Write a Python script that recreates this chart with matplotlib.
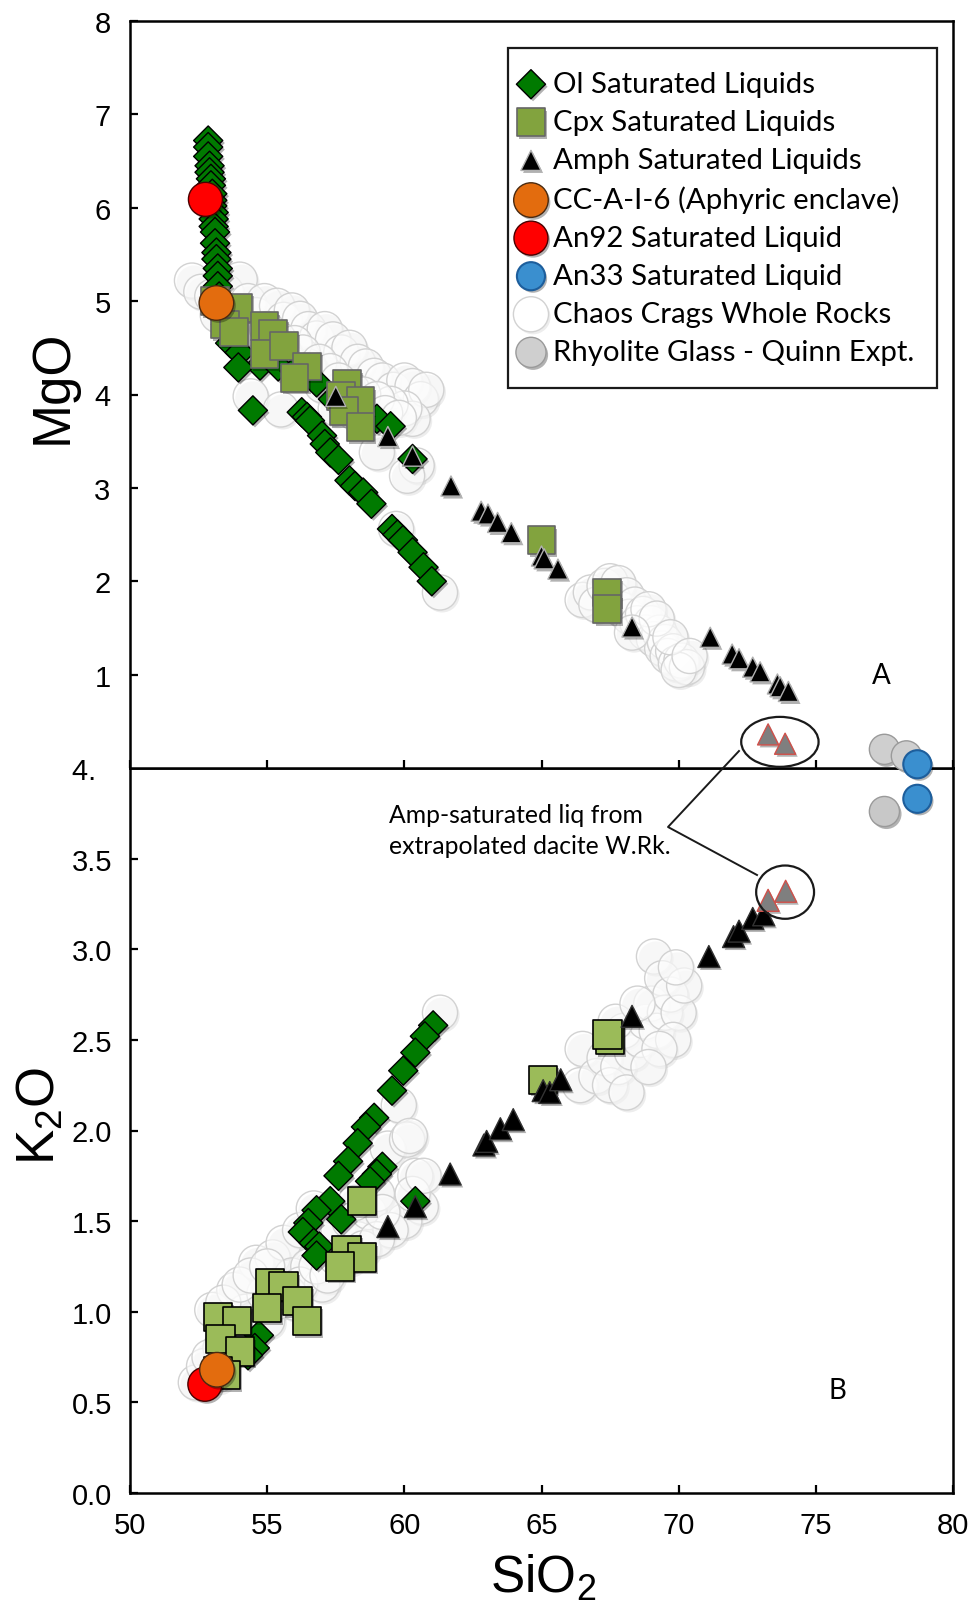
import matplotlib
matplotlib.use('Agg')
import matplotlib.pyplot as plt
import matplotlib.patheffects as pe
from matplotlib.patches import Ellipse
from matplotlib.lines import Line2D
import numpy as np

# ---------------- data ----------------
# Panel A: SiO2 vs MgO
ol_a_sio2 = [52.85, 52.85, 52.85, 52.9, 52.9, 52.95, 52.95, 53.0, 53.0, 53.0, 53.05, 53.05,
             53.05, 53.1, 53.1, 53.15, 53.15, 53.2, 53.2, 53.2, 53.25,
             53.3, 53.5, 53.65, 54.0, 54.74, 55.4, 56.0, 56.8, 57.4, 58.0, 58.4, 59.0, 59.5, 60.3,
             53.95, 54.48,
             56.26, 56.45, 56.56, 57.0, 57.1, 57.3, 57.6, 58.0, 58.2, 58.5, 58.8, 59.55, 59.75,
             59.95, 60.3, 60.7, 61.0]
ol_a_mgo = [6.72, 6.65, 6.55, 6.45, 6.38, 6.31, 6.24, 6.15, 6.08, 6.02, 5.95, 5.88,
            5.80, 5.74, 5.62, 5.52, 5.45, 5.35, 5.27, 5.16, 5.05,
            4.90, 4.75, 4.55, 4.45, 4.31, 4.30, 4.25, 4.13, 3.95, 3.90, 3.84, 3.74, 3.66, 3.31,
            4.29, 3.83,
            3.81, 3.76, 3.72, 3.56, 3.47, 3.38, 3.30, 3.08, 3.02, 2.95, 2.83, 2.56, 2.50,
            2.44, 2.31, 2.15, 2.00]

cpx_a_sio2 = [53.1, 53.95, 53.46, 53.8, 54.9, 55.2, 54.9, 55.6, 56.45, 56.0, 57.9, 57.7,
              58.4, 57.8, 58.4, 65.0, 67.4, 67.4]
cpx_a_mgo = [5.00, 4.93, 4.75, 4.67, 4.73, 4.65, 4.43, 4.52, 4.30, 4.18, 4.11, 3.98,
             3.93, 3.82, 3.65, 2.44, 1.88, 1.70]

amph_a_sio2 = [57.5, 59.4, 60.3, 61.7, 62.8, 63.05, 63.4, 63.9, 65.0, 65.1, 65.6, 68.3,
               71.15, 71.95, 72.2, 72.7, 72.97, 73.6, 73.7, 74.0]
amph_a_mgo = [3.98, 3.55, 3.34, 3.02, 2.75, 2.72, 2.63, 2.52, 2.27, 2.24, 2.13, 1.51,
              1.40, 1.22, 1.17, 1.08, 1.03, 0.90, 0.87, 0.82]

extrap_a_sio2 = [73.26, 73.88]
extrap_a_mgo = [0.36, 0.26]

cc_a = (53.15, 4.98)      # CC-A-I-6
an92_a = (52.75, 6.09)
an33_a_sio2 = [78.7]
an33_a_mgo = [0.04]
rhy_a_sio2 = [77.5, 78.3]
rhy_a_mgo = [0.20, 0.13]

wr_a_sio2 = [52.26, 52.6, 53.0, 53.5, 54.0, 54.3, 54.6, 54.9, 55.36, 55.6, 55.9, 56.2, 56.5,
             56.8, 57.1, 57.4, 57.7, 58.0, 58.3, 58.6, 58.9, 59.2, 59.6, 60.0, 60.3, 60.6,
             60.8, 60.3, 60.0, 59.5, 58.8, 58.2, 57.5, 57.0, 56.5, 55.8, 55.2, 54.6, 54.4,
             55.5, 60.45, 60.1, 59.0, 59.7, 61.3,
             53.2, 53.8, 54.2, 55.0, 55.4, 56.0, 56.3, 56.9, 57.3, 57.6, 58.1, 58.5, 59.0,
             59.3, 59.8,
             66.5, 66.8, 67.0, 67.3, 67.5, 67.8, 67.6, 67.9, 68.1, 68.2, 68.4, 68.5, 68.7,
             68.8, 69.0, 69.1, 69.3, 69.4, 69.5, 69.6, 69.8, 69.9, 70.1, 70.3, 70.0, 68.9,
             69.2, 68.3, 69.7, 70.4]
wr_a_mgo = [5.22, 5.10, 5.05, 5.10, 5.23, 5.00, 4.85, 5.00, 4.95, 4.80, 4.90, 4.81, 4.70,
            4.60, 4.70, 4.59, 4.45, 4.50, 4.35, 4.30, 4.20, 4.15, 4.05, 4.15, 4.09, 3.95,
            4.05, 3.74, 3.85, 3.90, 3.70, 3.80, 3.85, 4.10, 4.30, 4.35, 4.50, 4.60, 3.98,
            3.84, 3.24, 3.13, 3.38, 2.56, 1.88,
            4.85, 4.80, 4.70, 4.70, 4.60, 4.55, 4.45, 4.35, 4.25, 4.15, 4.05, 4.00, 3.95,
            3.80, 3.75,
            1.80, 1.88, 1.75, 1.95, 2.00, 1.98, 1.82, 1.70, 1.85, 1.62, 1.75, 1.55, 1.65,
            1.45, 1.55, 1.38, 1.45, 1.28, 1.35, 1.20, 1.25, 1.12, 1.15, 1.08, 1.05, 1.70,
            1.60, 1.45, 1.40, 1.20]

# Panel B: SiO2 vs K2O
ol_b_sio2 = [61.05, 60.75, 60.4, 59.96, 59.55, 58.9, 58.6, 58.3, 57.95, 57.6, 59.2, 59.0,
             58.75, 57.3, 56.8, 57.7, 56.5, 56.3, 56.7, 56.9, 56.8, 60.4, 54.7, 54.55,
             54.3, 53.0, 53.1, 53.2, 53.3]
ol_b_k2o = [2.58, 2.52, 2.43, 2.33, 2.22, 2.07, 2.02, 1.93, 1.83, 1.75, 1.80, 1.76,
            1.72, 1.61, 1.56, 1.51, 1.49, 1.44, 1.38, 1.36, 1.31, 1.61, 0.87, 0.80,
            0.76, 0.62, 0.63, 0.66, 0.68]

cpx_b_sio2 = [58.46, 57.9, 58.46, 57.65, 55.1, 55.6, 55.0, 56.1, 56.45, 53.2, 53.9, 53.3,
              54.0, 53.2, 53.5, 65.06, 67.5, 67.4]
cpx_b_k2o = [1.61, 1.34, 1.30, 1.25, 1.16, 1.14, 1.02, 1.06, 0.95, 0.97, 0.95, 0.85,
             0.78, 0.67, 0.65, 2.28, 2.50, 2.53]

amph_b_sio2 = [59.4, 60.4, 61.67, 62.9, 63.0, 63.5, 63.97, 65.06, 65.3, 65.7, 68.3, 71.1,
               72.0, 72.2, 72.7, 73.1]
amph_b_k2o = [1.47, 1.58, 1.76, 1.92, 1.94, 2.01, 2.06, 2.22, 2.21, 2.28, 2.63, 2.96,
              3.07, 3.10, 3.17, 3.19]

extrap_b_sio2 = [73.26, 73.9]
extrap_b_k2o = [3.27, 3.32]

cc_b = (53.17, 0.68)
an92_b = (52.73, 0.60)
an33_b_sio2 = [78.7]
an33_b_k2o = [3.83]
rhy_b_sio2 = [77.5]
rhy_b_k2o = [3.76]

wr_b_sio2 = [52.4, 52.7, 53.0, 53.3, 53.6, 53.8, 54.2, 54.6, 54.9, 55.2, 55.6, 55.9, 56.2,
             56.7, 56.5, 57.0, 57.3, 57.6, 58.0, 58.3, 58.7, 59.0, 59.4, 59.8, 60.1, 60.2,
             60.6, 60.4, 60.0, 59.5, 61.3, 55.0, 54.0, 56.0, 57.0,
             53.4, 54.0, 54.4, 55.0, 55.3, 55.8, 56.2, 56.8, 57.2, 57.5, 58.0, 58.5, 59.0,
             59.2, 58.2, 60.3, 60.7, 53.9, 52.9, 53.2,
             66.4, 66.5, 67.0, 67.3, 67.5, 67.8, 68.1, 68.3, 68.0, 68.6, 68.8, 69.0, 69.1,
             69.4, 69.2, 69.5, 69.7, 70.0, 69.8, 70.2, 69.3, 68.9, 67.7, 68.5, 69.9]
wr_b_k2o = [0.61, 0.70, 1.01, 0.80, 0.90, 1.12, 1.00, 1.27, 1.10, 1.30, 1.38, 1.20, 1.45,
            1.57, 1.25, 1.40, 1.30, 1.45, 1.50, 1.40, 1.55, 1.65, 1.90, 2.14, 1.95, 1.97,
            1.58, 1.75, 1.50, 1.45, 2.65, 0.95, 0.80, 1.05, 1.15,
            1.05, 1.15, 1.20, 1.25, 1.05, 1.10, 1.15, 1.25, 1.20, 1.30, 1.30, 1.35, 1.40,
            1.55, 1.60, 1.65, 1.75, 0.85, 0.75, 0.65,
            2.25, 2.45, 2.30, 2.40, 2.25, 2.35, 2.21, 2.43, 2.55, 2.50, 2.60, 2.70, 2.96,
            2.84, 2.55, 2.65, 2.75, 2.65, 2.50, 2.80, 2.45, 2.35, 2.60, 2.70, 2.90]

labels = ['Ol Saturated Liquids', 'Cpx Saturated Liquids', 'Amph Saturated Liquids',
          'CC-A-I-6 (Aphyric enclave)', 'An92 Saturated Liquid', 'An33 Saturated Liquid',
          'Chaos Crags Whole Rocks', 'Rhyolite Glass - Quinn Expt.']
x_ticks = [50, 55, 60, 65, 70, 75, 80]
mgo_ticks = [1, 2, 3, 4, 5, 6, 7, 8]
k2o_ticks = [0.0, 0.5, 1.0, 1.5, 2.0, 2.5, 3.0, 3.5, 4.0]
k2o_ticklabels = ['0.0', '0.5', '1.0', '1.5', '2.0', '2.5', '3.0', '3.5', '4.\u2007']

# ---------------- figure ----------------
W, H = 974, 1606
fig = plt.figure(figsize=(W / 100, H / 100), dpi=100)
left, right = 130 / W, 953 / W
ax1 = fig.add_axes([left, 1 - 769 / H, right - left, (769 - 22) / H])
ax2 = fig.add_axes([left, 1 - 1494 / H, right - left, (1494 - 769) / H])
ax1.set_zorder(1)

tick_font = ['Liberation Sans', 'DejaVu Sans']
text_font = ['Lato', 'DejaVu Sans']
wr_face = (1, 1, 1, 0.6)


def shadow(a=0.3):
    return [pe.SimplePatchShadow(offset=(1.5, -1.8), shadow_rgbFace='black', alpha=a),
            pe.Normal()]


def style_axes(ax):
    for sp in ax.spines.values():
        sp.set_linewidth(1.8)
    ax.set_xlim(50, 80)
    ax.set_xticks(x_ticks)
    ax.tick_params(direction='in', length=6, width=1.6, labelsize=21, pad=13)
    for lab in ax.get_xticklabels() + ax.get_yticklabels():
        lab.set_family(tick_font)


# panel A
wr1 = ax1.scatter(wr_a_sio2, wr_a_mgo, s=640, marker='o', facecolor=wr_face,
                  edgecolor='#d2d2d2', linewidth=1.0, zorder=2, path_effects=shadow(0.07))
ol1 = ax1.scatter(ol_a_sio2, ol_a_mgo, s=220, marker='D', facecolor='#007a00',
                  edgecolor='black', linewidth=1.0, zorder=3, path_effects=shadow())
cpx1 = ax1.scatter(cpx_a_sio2, cpx_a_mgo, s=400, marker='s', facecolor='#82a33e',
                   edgecolor='#666666', linewidth=1.2, zorder=4, path_effects=shadow())
am1 = ax1.scatter(amph_a_sio2, amph_a_mgo, s=210, marker='^', facecolor='black',
                  edgecolor='#b0b0b0', linewidth=1.0, zorder=5, path_effects=shadow())
ax1.scatter(extrap_a_sio2, extrap_a_mgo, s=230, marker='^', facecolor='#7f7f7f',
            edgecolor='#d0504a', linewidth=1.0, zorder=5, path_effects=shadow())
an92 = ax1.scatter([an92_a[0]], [an92_a[1]], s=600, facecolor='#ff0000',
                   edgecolor='#4a0000', linewidth=1.0, zorder=6, path_effects=shadow())
cc1 = ax1.scatter([cc_a[0]], [cc_a[1]], s=620, facecolor='#e36c0e',
                  edgecolor='#4a2a10', linewidth=1.0, zorder=6, path_effects=shadow())
rhy1 = ax1.scatter(rhy_a_sio2, rhy_a_mgo, s=470, facecolor='#cfcfcf', edgecolor='#9a9a9a',
                   linewidth=1.0, zorder=6, clip_on=False, path_effects=shadow())
an33 = ax1.scatter(an33_a_sio2, an33_a_mgo, s=410, facecolor='#3a8fcf', edgecolor='#1d5e9c',
                   linewidth=1.5, zorder=7, clip_on=False, path_effects=shadow())

ax1.set_ylim(0, 8)
ax1.set_yticks(mgo_ticks)
style_axes(ax1)
ax1.tick_params(axis='x', labelbottom=False)
ax1.tick_params(axis='y', pad=14)
ax1.add_patch(Ellipse((np.mean(extrap_a_sio2) + 0.12, np.mean(extrap_a_mgo) - 0.03), 2.82, 0.535,
                      fill=False, edgecolor='#1a1a1a', linewidth=1.6, zorder=8))
ax1.text(77.4, 1.0, 'A', ha='center', va='center', fontsize=20, family=text_font)

leg = ax1.legend([ol1, cpx1, am1, cc1, an92, an33, wr1, rhy1], labels,
                 loc='upper left', bbox_to_anchor=(508 / W, 1 - 49 / H),
                 bbox_transform=fig.transFigure, borderaxespad=0, borderpad=0.78,
                 handlelength=0.0, handletextpad=0.75, labelspacing=0.41,
                 prop={'family': text_font, 'size': 21.2}, frameon=True, fancybox=False,
                 edgecolor='#1a1a1a', framealpha=1, scatterpoints=1)
leg.get_frame().set_linewidth(1.6)
leg.legend_handles[6].set_facecolor('white')

# panel B
ax2.scatter(wr_b_sio2, wr_b_k2o, s=640, marker='o', facecolor=wr_face,
            edgecolor='#d2d2d2', linewidth=1.0, zorder=2, path_effects=shadow(0.07))
ax2.scatter(ol_b_sio2, ol_b_k2o, s=220, marker='D', facecolor='#007a00',
            edgecolor='black', linewidth=1.0, zorder=3, path_effects=shadow())
ax2.scatter(cpx_b_sio2, cpx_b_k2o, s=420, marker='s', facecolor='#9bbb59',
            edgecolor='black', linewidth=1.2, zorder=4, path_effects=shadow())
ax2.scatter(amph_b_sio2, amph_b_k2o, s=250, marker='^', facecolor='black',
            edgecolor='#333333', linewidth=1.0, zorder=5, path_effects=shadow())
ax2.scatter(extrap_b_sio2, extrap_b_k2o, s=250, marker='^', facecolor='#7f7f7f',
            edgecolor='#d0504a', linewidth=1.0, zorder=5, path_effects=shadow())
ax2.scatter([an92_b[0]], [an92_b[1]], s=600, facecolor='#ff0000',
            edgecolor='#4a0000', linewidth=1.0, zorder=6, path_effects=shadow())
ax2.scatter([cc_b[0]], [cc_b[1]], s=620, facecolor='#e36c0e',
            edgecolor='#4a2a10', linewidth=1.0, zorder=6, path_effects=shadow())
ax2.scatter(rhy_b_sio2, rhy_b_k2o, s=470, facecolor='#c8c8c8', edgecolor='#9a9a9a',
            linewidth=1.0, zorder=6, path_effects=shadow())
ax2.scatter(an33_b_sio2, an33_b_k2o, s=410, facecolor='#3a8fcf', edgecolor='#1d5e9c',
            linewidth=1.5, zorder=7, path_effects=shadow())

ax2.set_ylim(0, 4)
ax2.set_yticks(k2o_ticks)
ax2.set_yticklabels(k2o_ticklabels)
style_axes(ax2)
ax2.add_patch(Ellipse((np.mean(extrap_b_sio2) + 0.3, np.mean(extrap_b_k2o) + 0.02), 2.11, 0.294,
                      fill=False, edgecolor='#1a1a1a', linewidth=1.6, zorder=8))
ax2.text(75.8, 0.57, 'B', ha='center', va='center', fontsize=20, family=text_font)

# axis titles
fig.text(53 / W, 1 - 387 / H, 'MgO', rotation=90, ha='center', va='center',
         fontsize=38, family=tick_font)
fig.text(40 / W, 1 - 1116 / H, r'K$\mathregular{_2}$O', rotation=90, ha='center', va='center',
         fontsize=38, family=tick_font)
fig.text(543 / W, 1 - 1578 / H, r'SiO$\mathregular{_2}$', ha='center', va='center',
         fontsize=37, family=tick_font)

# callout for the extrapolated liquids
fig.add_artist(Line2D([739 / W, 668 / W, 757 / W], [1 - 752 / H, 1 - 828 / H, 1 - 876 / H],
                      transform=fig.transFigure, color='#1a1a1a', linewidth=1.4, zorder=5))
fig.text(389 / W, 1 - 831 / H, 'Amp-saturated liq from\nextrapolated dacite W.Rk.',
         ha='left', va='center', fontsize=17.8, family=text_font, linespacing=1.4)

plt.savefig('out.png', dpi=100)
